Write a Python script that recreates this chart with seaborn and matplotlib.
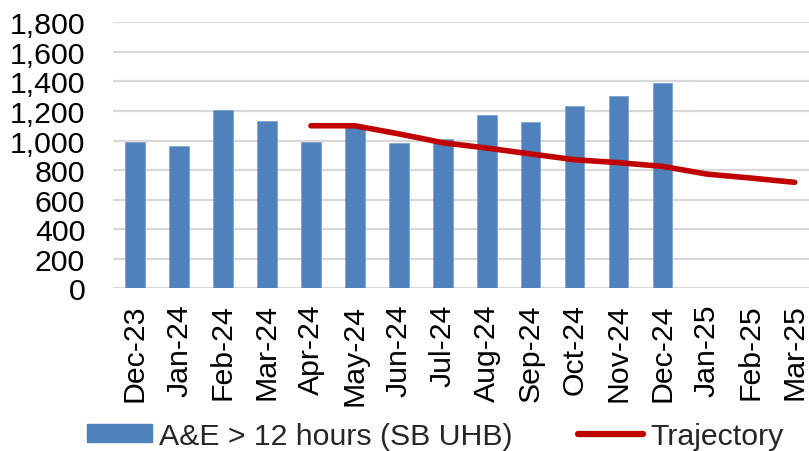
import numpy as np
import pandas as pd
import matplotlib
matplotlib.use("Agg")
import matplotlib.pyplot as plt
import seaborn as sns
from matplotlib.patches import Patch
from matplotlib.lines import Line2D

months = ["Dec-23", "Jan-24", "Feb-24", "Mar-24", "Apr-24", "May-24", "Jun-24", "Jul-24",
          "Aug-24", "Sep-24", "Oct-24", "Nov-24", "Dec-24", "Jan-25", "Feb-25", "Mar-25"]
ae_12h = [992, 960, 1204, 1134, 992, 1089, 981, 1012, 1170, 1125, 1235, 1303, 1391,
          np.nan, np.nan, np.nan]
trajectory = [np.nan, np.nan, np.nan, np.nan, 1100, 1100, 1045, 985, 949, 909, 870, 850,
              825, 773, 746, 717]
yticks = [0, 200, 400, 600, 800, 1000, 1200, 1400, 1600, 1800]

df = pd.DataFrame({"month": months, "ae": ae_12h, "traj": trajectory})

sns.set_theme(style="white")
plt.rcParams["font.family"] = ["Liberation Sans", "DejaVu Sans"]

bar_color = "#4F81BD"
line_color = "#C00000"
FS = 21.8

fig = plt.figure(figsize=(8.09, 4.52), dpi=100)
ax = fig.add_axes([113 / 809, 1 - 289.3 / 452, (816.7 - 113) / 809, (289.3 - 23.3) / 452])

sns.barplot(data=df, x="month", y="ae", color=bar_color, width=0.44, ax=ax,
            saturation=1, edgecolor="#7FA3D3", linewidth=0.6, zorder=3)
traj_df = df.dropna(subset=["traj"])
sns.lineplot(data=traj_df, x="month", y="traj", color=line_color, linewidth=4,
             sort=False, ax=ax, zorder=4, solid_capstyle="round")

ax.set_ylim(0, 1800)
ax.set_xlim(-0.5, len(months) - 0.5)
ax.set_yticks(yticks)
ax.set_yticklabels([f"{v:,}" for v in yticks], fontsize=FS)
ax.set_xticks(range(len(months)))
ax.set_xticklabels(months, rotation=90, fontsize=FS)
ax.set_xlabel("")
ax.set_ylabel("")
ax.yaxis.grid(True, color="#D9D9D9", linewidth=1.6, zorder=0)
ax.set_axisbelow(True)
for s in ax.spines.values():
    s.set_visible(False)
ax.tick_params(axis="both", length=0, colors="black")
ax.tick_params(axis="x", pad=11)
ax.tick_params(axis="y", pad=20)

handles = [Patch(facecolor=bar_color, edgecolor=bar_color),
           Line2D([0], [0], color=line_color, linewidth=4.5, solid_capstyle="round")]
labels = ["A&E > 12 hours (SB UHB)", "Trajectory"]
fig.legend(handles, labels, loc="center", bbox_to_anchor=(435 / 809, 1 - 437 / 452), ncol=2,
           frameon=False, fontsize=FS, handlelength=2.16, handleheight=0.52,
           handletextpad=0.23, columnspacing=2.16, borderaxespad=0, borderpad=0)

fig.savefig("out.png", dpi=100)
